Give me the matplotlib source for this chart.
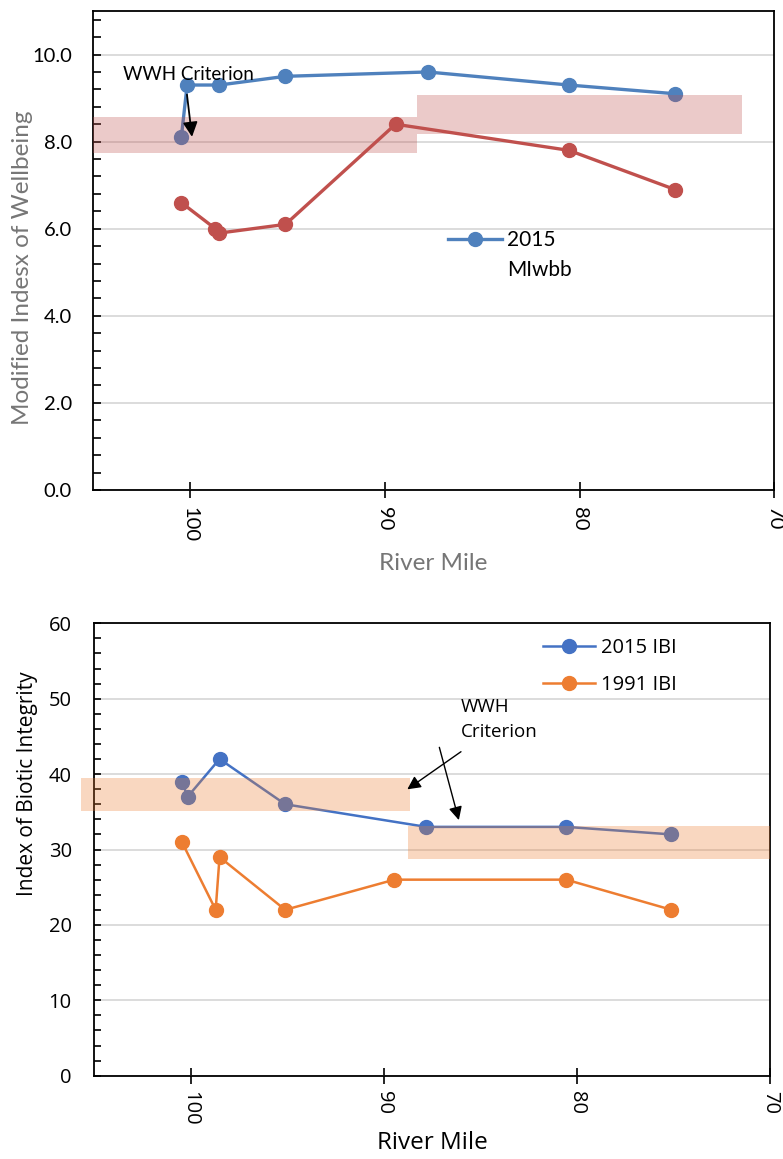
import matplotlib
matplotlib.use("Agg")
import matplotlib.pyplot as plt
from matplotlib.ticker import MultipleLocator

# ---------------- data ----------------
mi_2015_miles = [100.45, 100.15, 98.5, 95.1, 87.8, 80.55, 75.1]
mi_2015 = [8.1, 9.3, 9.3, 9.5, 9.6, 9.3, 9.1]
mi_1991_miles = [100.45, 98.7, 98.5, 95.1, 89.45, 80.55, 75.1]
mi_1991 = [6.6, 6.0, 5.9, 6.1, 8.4, 7.8, 6.9]

ibi_2015_miles = [100.45, 100.15, 98.5, 95.1, 87.8, 80.55, 75.1]
ibi_2015 = [39, 37, 42, 36, 33, 33, 32]
ibi_1991_miles = [100.45, 98.7, 98.5, 95.1, 89.45, 80.55, 75.1]
ibi_1991 = [31, 22, 29, 22, 26, 26, 22]

# WWH criterion bands: (mile start, mile end, low, high)
mi_band_x0 = [105.0, 88.36]
mi_band_x1 = [88.36, 71.65]
mi_band_lo = [7.73, 8.18]
mi_band_hi = [8.57, 9.06]

ibi_band_x0 = [105.65, 88.75]
ibi_band_x1 = [88.65, 70.0]
ibi_band_lo = [35.1, 28.7]
ibi_band_hi = [39.5, 33.1]

x_ticks = [100, 90, 80, 70]

W, H = 783, 1159
fig = plt.figure(figsize=(W / 100, H / 100), dpi=100)

def fx(px):
    return px / W

def fy(py):
    return 1 - py / H

TOPFONT = ["Lato", "DejaVu Sans"]
BOTFONT = ["Open Sans", "DejaVu Sans"]

# ================= TOP CHART =================
ax1 = fig.add_axes([fx(92.7), fy(490), fx(774.3 - 92.7), (490 - 11) / H])
ax1.set_xlim(105, 70)
ax1.set_ylim(0, 11)

blue1 = "#4F81BD"
red1 = "#C0504D"
l15, = ax1.plot(mi_2015_miles, mi_2015, color=blue1, lw=2.4, marker="o",
                markersize=10, zorder=3, label="2015")
ax1.plot(mi_1991_miles, mi_1991, color=red1, lw=2.4, marker="o",
         markersize=10, zorder=3)
for x0, x1, lo, hi in zip(mi_band_x0, mi_band_x1, mi_band_lo, mi_band_hi):
    ax1.fill_between([x0, x1], [lo, lo], [hi, hi], color=red1, alpha=0.3,
                     lw=0, zorder=4)

ax1.yaxis.set_minor_locator(MultipleLocator(0.4))
ax1.set_yticks([0, 2, 4, 6, 8, 10])
ax1.set_yticklabels(["0.0", "2.0", "4.0", "6.0", "8.0", "10.0"],
                    family=TOPFONT, fontsize=14.5)
ax1.set_xticks(x_ticks)
ax1.set_xticklabels([str(t) for t in x_ticks], rotation=270,
                    family=TOPFONT, fontsize=14.5)
ax1.tick_params(axis="y", which="both", direction="in", length=6, width=1.2,
                pad=15)
ax1.tick_params(axis="x", which="major", direction="inout", length=12,
                width=1.2, pad=6)
ax1.grid(axis="y", color="#D9D9D9", lw=1.3, zorder=0)
ax1.set_axisbelow(True)
for s in ax1.spines.values():
    s.set_linewidth(1.3)
    s.set_color("black")

ax1.set_ylabel("Modified Indesx of Wellbeing", family=TOPFONT, fontsize=17.5,
               color="#767676")
ax1.yaxis.set_label_coords((33 - 92.7) / (774.3 - 92.7), (490 - 268) / 479)
ax1.set_xlabel("River Mile", family=TOPFONT, fontsize=17.5, color="#767676",
               labelpad=8)

ax1.annotate("", xy=(99.9, 8.11), xytext=(100.16, 9.08),
             arrowprops=dict(arrowstyle="-|>", color="black", lw=1.3,
                             mutation_scale=22, shrinkA=0, shrinkB=0),
             zorder=6)
ax1.text(103.45, 9.54, "WWH Criterion", fontsize=13.5, family=TOPFONT,
         ha="left", va="center", zorder=6)

leg1 = ax1.legend(handles=[l15], loc="center left",
                  bbox_to_anchor=(fx(448), fy(240)),
                  bbox_transform=fig.transFigure, frameon=False,
                  borderpad=0, borderaxespad=0, handlelength=2.6,
                  handletextpad=0.25,
                  prop={"family": TOPFONT, "size": 15})
fig.text(fx(507), fy(270), "MIwbb", family=TOPFONT, fontsize=15,
         ha="left", va="center")

# ================= BOTTOM CHART =================
ax2 = fig.add_axes([fx(94), fy(1075.7), fx(770 - 94), (1075.7 - 623.3) / H])
ax2.set_xlim(105, 70)
ax2.set_ylim(0, 60)

blue2 = "#4472C4"
orange2 = "#ED7D31"
l2a, = ax2.plot(ibi_2015_miles, ibi_2015, color=blue2, lw=1.8, marker="o",
                markersize=10, zorder=3, label="2015 IBI")
l2b, = ax2.plot(ibi_1991_miles, ibi_1991, color=orange2, lw=1.8, marker="o",
                markersize=10, zorder=3, label="1991 IBI")
for x0, x1, lo, hi in zip(ibi_band_x0, ibi_band_x1, ibi_band_lo, ibi_band_hi):
    ax2.fill_between([x0, x1], [lo, lo], [hi, hi], color=orange2, alpha=0.3,
                     lw=0, zorder=4, clip_on=False)

ax2.set_yticks([0, 10, 20, 30, 40, 50, 60])
ax2.set_yticklabels(["0", "10", "20", "30", "40", "50", "60"],
                    family=BOTFONT, fontsize=14.5)
ax2.yaxis.set_minor_locator(MultipleLocator(2))
ax2.set_xticks(x_ticks)
ax2.set_xticklabels([str(t) for t in x_ticks], rotation=270,
                    family=BOTFONT, fontsize=14.5)
ax2.tick_params(axis="y", which="both", direction="in", length=5, width=1.2,
                pad=16)
ax2.tick_params(axis="x", which="major", direction="inout", length=12,
                width=1.2, pad=5)
ax2.grid(axis="y", color="#D9D9D9", lw=1.3, zorder=0)
ax2.set_axisbelow(True)
for s in ax2.spines.values():
    s.set_linewidth(1.3)
    s.set_color("black")

ax2.set_ylabel("Index of Biotic Integrity", family=BOTFONT, fontsize=15,
               color="black")
ax2.yaxis.set_label_coords((38 - 94) / (770 - 94), (1075.7 - 783.5) / 452.4)
ax2.set_xlabel("River Mile", family=BOTFONT, fontsize=17.5, color="black",
               labelpad=4)

ax2.text(86.01, 50.1, "WWH\nCriterion", family=BOTFONT, fontsize=13.5,
         ha="left", va="top", linespacing=1.5, zorder=6)
for (tx, ty), (hx, hy) in [((86.0, 42.97), (88.78, 37.98)),
                           ((87.12, 43.55), (86.11, 33.9))]:
    ax2.annotate("", xy=(hx, hy), xytext=(tx, ty),
                 arrowprops=dict(arrowstyle="-|>", color="black", lw=1.0,
                                 mutation_scale=20, shrinkA=0, shrinkB=0),
                 zorder=6)

ax2.legend(handles=[l2a, l2b], loc="upper left",
           bbox_to_anchor=(fx(543), fy(638)),
           bbox_transform=fig.transFigure, frameon=False,
           borderpad=0, borderaxespad=0, handlelength=2.6,
           handletextpad=0.3, labelspacing=0.85,
           prop={"family": BOTFONT, "size": 14.5})

fig.savefig("out.png", dpi=100)
